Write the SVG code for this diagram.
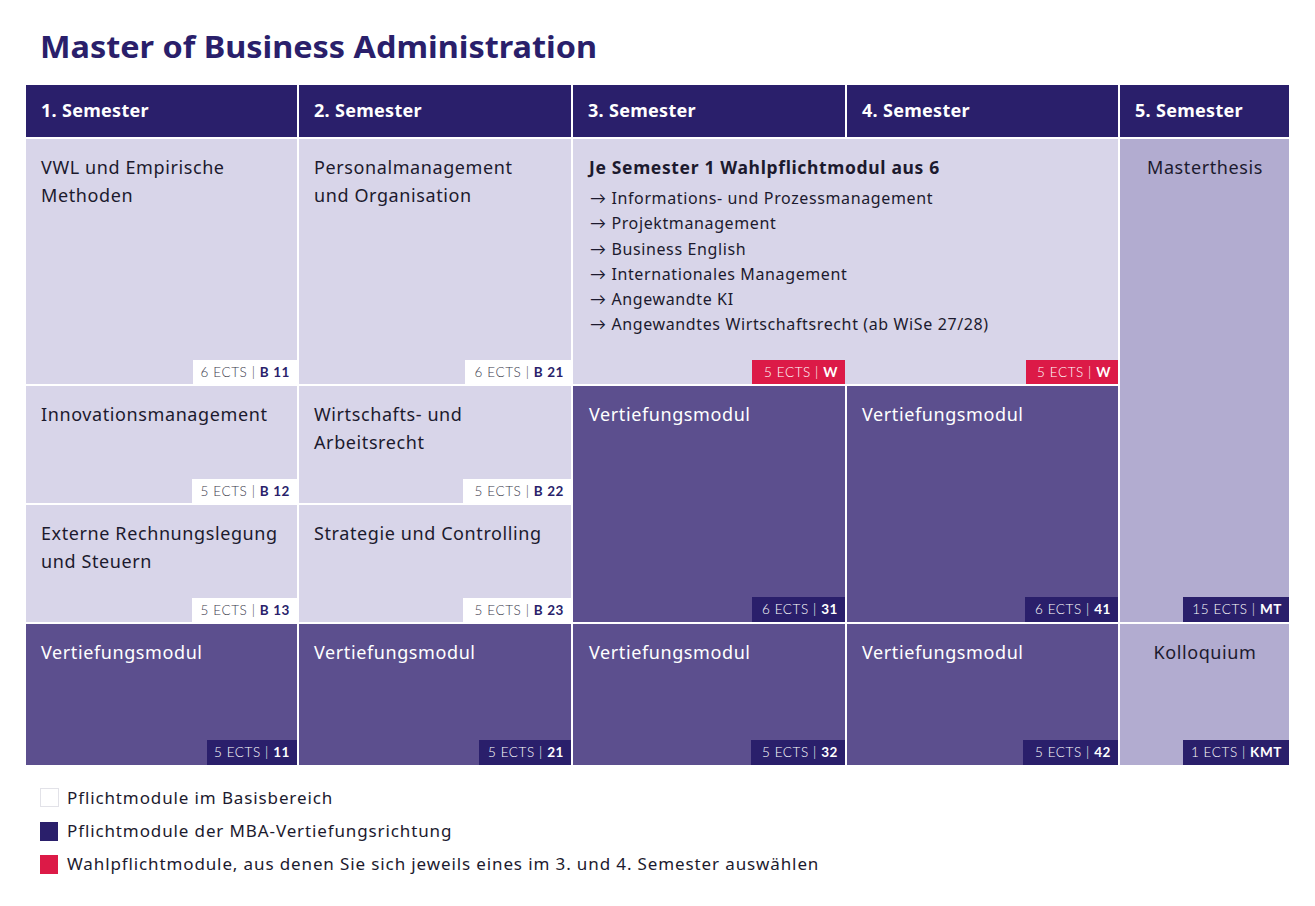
<svg xmlns="http://www.w3.org/2000/svg" width="1315" height="906" viewBox="0 0 1315 906">
<style>
text{font-family:"Noto Sans","Liberation Sans",sans-serif;}
.title{font-size:31px;font-weight:700;fill:#2a1f6b;}
.hd{fill:#2a1f6b;}
.hdt{font-size:18px;font-weight:700;fill:#ffffff;letter-spacing:0.3px;}
.lt{fill:#d8d5e9;}
.dk{fill:#5c4f8e;}
.mt{fill:#b2acd0;}
.t{font-size:18px;fill:#1c1a2e;letter-spacing:0.6px;}
.tw{font-size:18px;fill:#ffffff;letter-spacing:0.6px;}
.tb{font-size:17.5px;font-weight:700;fill:#1c1a2e;letter-spacing:0.65px;}
.li{font-size:16px;fill:#1c1a2e;letter-spacing:0.62px;}
.ar{font-family:"Lato","DejaVu Sans",sans-serif;}
.bw{fill:#ffffff;}
.bn{fill:#2a1f6b;}
.br{fill:#dc1a47;}
.bt{font-family:"Lato","Liberation Sans",sans-serif;font-size:13.5px;letter-spacing:0.6px;font-weight:300;}
.btl{fill:#3a3a4a;}
.btw{fill:#ffffff;}
.code{font-weight:700;}
.cn{fill:#2a1f6b;}
.lg{font-size:17px;fill:#1c1a2e;letter-spacing:0.88px;}
</style>
<rect width="1315" height="906" fill="#ffffff"/>
<text class="title" x="40" y="58" textLength="557" lengthAdjust="spacingAndGlyphs">Master of Business Administration</text>

<g id="headers">
<rect class="hd" x="26" y="85" width="271" height="52"/>
<rect class="hd" x="299" y="85" width="272" height="52"/>
<rect class="hd" x="573" y="85" width="272" height="52"/>
<rect class="hd" x="847" y="85" width="271" height="52"/>
<rect class="hd" x="1120" y="85" width="169" height="52"/>
<text class="hdt" x="41" y="117">1. Semester</text>
<text class="hdt" x="314" y="117">2. Semester</text>
<text class="hdt" x="588" y="117">3. Semester</text>
<text class="hdt" x="862" y="117">4. Semester</text>
<text class="hdt" x="1135" y="117">5. Semester</text>
</g>

<g id="b11">
<rect class="lt" x="26" y="139" width="271" height="245"/>
<text class="t" x="41" y="174">VWL und Empirische</text>
<text class="t" x="41" y="202">Methoden</text>
<rect class="bw" x="193" y="360" width="104" height="24"/>
<text class="bt" x="290" y="377" text-anchor="end"><tspan class="btl">6 ECTS | </tspan><tspan class="code cn">B 11</tspan></text>
</g>

<g id="b21">
<rect class="lt" x="299" y="139" width="272" height="245"/>
<text class="t" x="314" y="174">Personalmanagement</text>
<text class="t" x="314" y="202">und Organisation</text>
<rect class="bw" x="465" y="360" width="106" height="24"/>
<text class="bt" x="564" y="377" text-anchor="end"><tspan class="btl">6 ECTS | </tspan><tspan class="code cn">B 21</tspan></text>
</g>

<g id="wahlpflicht">
<rect class="lt" x="573" y="139" width="545" height="245"/>
<text class="tb" x="589" y="174">Je Semester 1 Wahlpflichtmodul aus 6</text>
<text class="li" x="590" y="204"><tspan class="ar">→</tspan> Informations- und Prozessmanagement</text>
<text class="li" x="590" y="229"><tspan class="ar">→</tspan> Projektmanagement</text>
<text class="li" x="590" y="255"><tspan class="ar">→</tspan> Business English</text>
<text class="li" x="590" y="280"><tspan class="ar">→</tspan> Internationales Management</text>
<text class="li" x="590" y="305"><tspan class="ar">→</tspan> Angewandte KI</text>
<text class="li" x="590" y="330"><tspan class="ar">→</tspan> Angewandtes Wirtschaftsrecht (ab WiSe 27/28)</text>
<rect class="br" x="752" y="360" width="93" height="24"/>
<text class="bt" x="838" y="377" text-anchor="end"><tspan class="btw">5 ECTS | </tspan><tspan class="code btw">W</tspan></text>
<rect class="br" x="1026" y="360" width="92" height="24"/>
<text class="bt" x="1111" y="377" text-anchor="end"><tspan class="btw">5 ECTS | </tspan><tspan class="code btw">W</tspan></text>
</g>

<g id="mt">
<rect class="mt" x="1120" y="139" width="169" height="483"/>
<text class="t" x="1205" y="174" text-anchor="middle">Masterthesis</text>
<rect class="bn" x="1183" y="597" width="106" height="25"/>
<text class="bt" x="1282" y="614" text-anchor="end"><tspan class="btw">15 ECTS | </tspan><tspan class="code btw">MT</tspan></text>
</g>

<g id="b12">
<rect class="lt" x="26" y="386" width="271" height="117"/>
<text class="t" x="41" y="421">Innovationsmanagement</text>
<rect class="bw" x="192" y="479" width="105" height="24"/>
<text class="bt" x="290" y="496" text-anchor="end"><tspan class="btl">5 ECTS | </tspan><tspan class="code cn">B 12</tspan></text>
</g>

<g id="b22">
<rect class="lt" x="299" y="386" width="272" height="117"/>
<text class="t" x="314" y="421">Wirtschafts- und</text>
<text class="t" x="314" y="449">Arbeitsrecht</text>
<rect class="bw" x="463" y="479" width="108" height="24"/>
<text class="bt" x="564" y="496" text-anchor="end"><tspan class="btl">5 ECTS | </tspan><tspan class="code cn">B 22</tspan></text>
</g>

<g id="m31">
<rect class="dk" x="573" y="386" width="272" height="236"/>
<text class="tw" x="589" y="421">Vertiefungsmodul</text>
<rect class="bn" x="752" y="597" width="93" height="25"/>
<text class="bt" x="838" y="614" text-anchor="end"><tspan class="btw">6 ECTS | </tspan><tspan class="code btw">31</tspan></text>
</g>

<g id="m41">
<rect class="dk" x="847" y="386" width="271" height="236"/>
<text class="tw" x="862" y="421">Vertiefungsmodul</text>
<rect class="bn" x="1025" y="597" width="93" height="25"/>
<text class="bt" x="1111" y="614" text-anchor="end"><tspan class="btw">6 ECTS | </tspan><tspan class="code btw">41</tspan></text>
</g>

<g id="b13">
<rect class="lt" x="26" y="505" width="271" height="117"/>
<text class="t" x="41" y="540">Externe Rechnungslegung</text>
<text class="t" x="41" y="568">und Steuern</text>
<rect class="bw" x="192" y="598" width="105" height="24"/>
<text class="bt" x="290" y="615" text-anchor="end"><tspan class="btl">5 ECTS | </tspan><tspan class="code cn">B 13</tspan></text>
</g>

<g id="b23">
<rect class="lt" x="299" y="505" width="272" height="117"/>
<text class="t" x="314" y="540">Strategie und Controlling</text>
<rect class="bw" x="463" y="598" width="108" height="24"/>
<text class="bt" x="564" y="615" text-anchor="end"><tspan class="btl">5 ECTS | </tspan><tspan class="code cn">B 23</tspan></text>
</g>

<g id="m11">
<rect class="dk" x="26" y="624" width="271" height="141"/>
<text class="tw" x="41" y="659">Vertiefungsmodul</text>
<rect class="bn" x="207" y="740" width="90" height="25"/>
<text class="bt" x="290" y="757" text-anchor="end"><tspan class="btw">5 ECTS | </tspan><tspan class="code btw">11</tspan></text>
</g>

<g id="m21">
<rect class="dk" x="299" y="624" width="272" height="141"/>
<text class="tw" x="314" y="659">Vertiefungsmodul</text>
<rect class="bn" x="479" y="740" width="92" height="25"/>
<text class="bt" x="564" y="757" text-anchor="end"><tspan class="btw">5 ECTS | </tspan><tspan class="code btw">21</tspan></text>
</g>

<g id="m32">
<rect class="dk" x="573" y="624" width="272" height="141"/>
<text class="tw" x="589" y="659">Vertiefungsmodul</text>
<rect class="bn" x="751" y="740" width="94" height="25"/>
<text class="bt" x="838" y="757" text-anchor="end"><tspan class="btw">5 ECTS | </tspan><tspan class="code btw">32</tspan></text>
</g>

<g id="m42">
<rect class="dk" x="847" y="624" width="271" height="141"/>
<text class="tw" x="862" y="659">Vertiefungsmodul</text>
<rect class="bn" x="1023" y="740" width="95" height="25"/>
<text class="bt" x="1111" y="757" text-anchor="end"><tspan class="btw">5 ECTS | </tspan><tspan class="code btw">42</tspan></text>
</g>

<g id="kmt">
<rect class="mt" x="1120" y="624" width="169" height="141"/>
<text class="t" x="1205" y="659" text-anchor="middle">Kolloquium</text>
<rect class="bn" x="1183" y="740" width="106" height="25"/>
<text class="bt" x="1282" y="757" text-anchor="end"><tspan class="btw">1 ECTS | </tspan><tspan class="code btw">KMT</tspan></text>
</g>

<g id="legend">
<rect x="40.5" y="788.5" width="18" height="18" fill="#ffffff" stroke="#e2e2e8" stroke-width="1"/>
<text class="lg" x="67" y="804">Pflichtmodule im Basisbereich</text>
<rect x="40" y="822" width="18" height="19" fill="#2a1f6b"/>
<text class="lg" x="67" y="837">Pflichtmodule der MBA-Vertiefungsrichtung</text>
<rect x="40" y="855" width="18" height="19" fill="#dc1a47"/>
<text class="lg" x="67" y="870">Wahlpflichtmodule, aus denen Sie sich jeweils eines im 3. und 4. Semester auswählen</text>
</g>
<g id="connectors"></g>
</svg>
